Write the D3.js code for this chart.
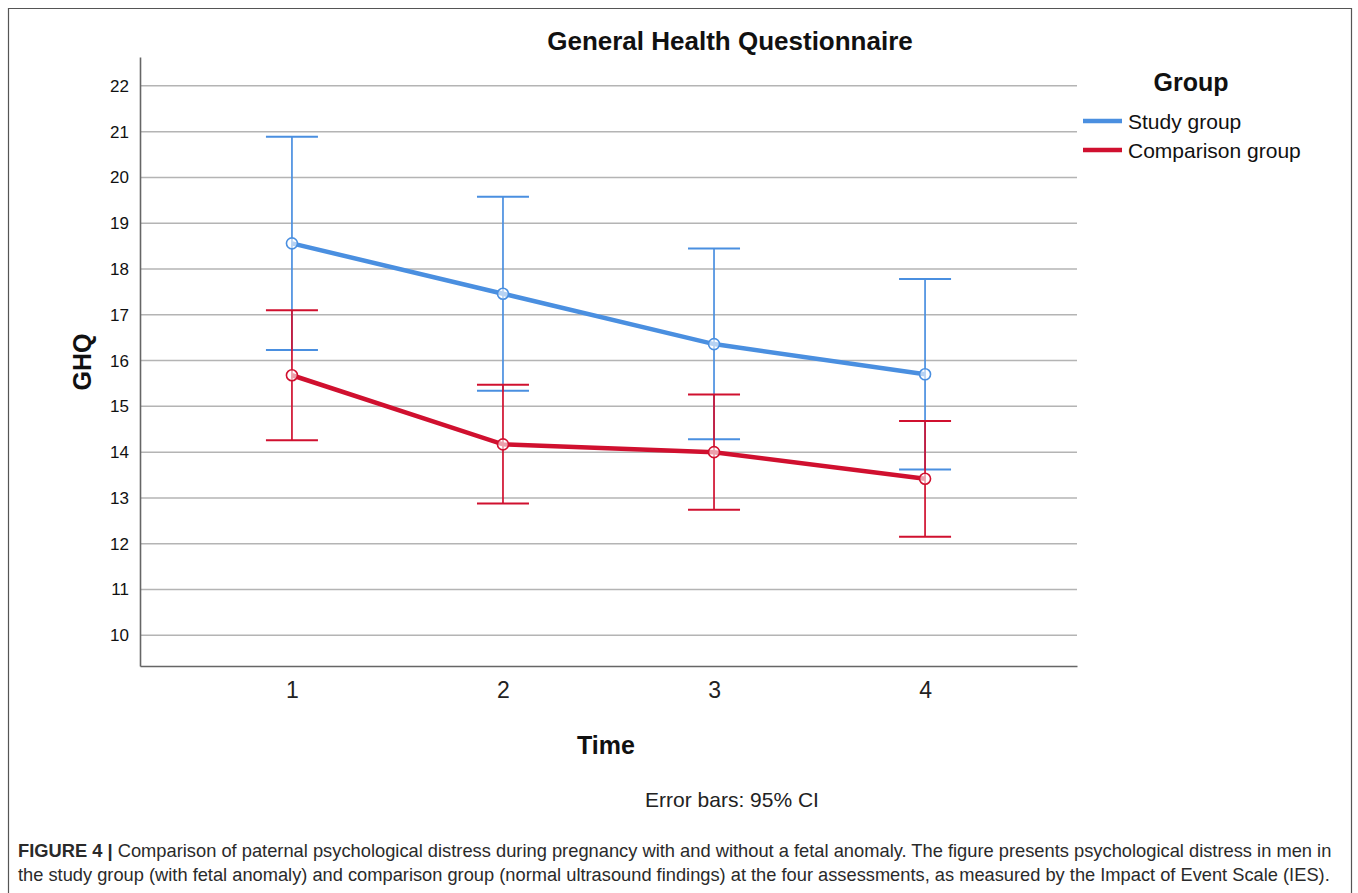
<!DOCTYPE html>
<html><head><meta charset="utf-8">
<script src="https://cdn.jsdelivr.net/npm/d3@7"></script>
<style>
html,body{margin:0;padding:0;background:#fff;}
svg{display:block;font-family:"Liberation Sans",Arial,sans-serif;}
</style></head>
<body>
<svg id="c" width="1358" height="893"></svg>
<script>
const times = [1, 2, 3, 4];
const yTicks = [10, 11, 12, 13, 14, 15, 16, 17, 18, 19, 20, 21, 22];
const seriesNames = ["Study group", "Comparison group"];
const studyMean = [18.56, 17.46, 16.36, 15.70];
const studyLow  = [16.23, 15.34, 14.28, 13.62];
const studyHigh = [20.89, 19.58, 18.45, 17.78];
const compMean = [15.68, 14.17, 14.00, 13.42];
const compLow  = [14.26, 12.88, 12.74, 12.15];
const compHigh = [17.10, 15.47, 15.26, 14.68];

const colors = ["#4a8fe0", "#d0102f"];
const svg = d3.select("#c");

// outer frame
svg.append("path").attr("d","M8.5,900 V8.5 H1351.5 V900").attr("fill","none").attr("stroke","#555").attr("stroke-width",1.2);

const x = d3.scalePoint().domain(times).range([140, 1077]).padding(0.72);
const y = d3.scaleLinear().domain([9.33, 22.63]).range([666, 57]);

// gridlines
svg.append("g").selectAll("line").data(yTicks).join("line")
  .attr("x1",140).attr("x2",1077)
  .attr("y1",d=>y(d)).attr("y2",d=>y(d))
  .attr("stroke","#b4b4b4").attr("stroke-width",1.5);

// axes
const yAxis = svg.append("g").attr("transform","translate(140,0)")
  .call(d3.axisLeft(y).tickValues(yTicks).tickSize(0).tickPadding(11));
yAxis.select(".domain").attr("stroke","#666").attr("stroke-width",1.6);
yAxis.selectAll("text").attr("font-size",17).attr("fill","#111").attr("font-family","Liberation Sans, Arial, sans-serif");

const xAxis = svg.append("g").attr("transform","translate(0,666)")
  .call(d3.axisBottom(x).tickSize(0).tickPadding(16));
xAxis.select(".domain").attr("stroke","#666").attr("stroke-width",1.6);
xAxis.selectAll("text").attr("font-size",23).attr("fill","#222").attr("font-family","Liberation Sans, Arial, sans-serif");

const series = [
  {name: seriesNames[0], mean: studyMean, low: studyLow, high: studyHigh, color: colors[0]},
  {name: seriesNames[1], mean: compMean, low: compLow, high: compHigh, color: colors[1]}
];

series.forEach(s => {
  const g = svg.append("g");
  const idx = d3.range(times.length);
  g.selectAll("line.v").data(idx).join("line").attr("class","v")
    .attr("x1",i=>x(times[i])).attr("x2",i=>x(times[i]))
    .attr("y1",i=>y(s.low[i])).attr("y2",i=>y(s.high[i]))
    .attr("stroke",s.color).attr("stroke-width",1.7);
  ["low","high"].forEach(k => {
    g.selectAll("line."+k).data(idx).join("line").attr("class",k)
      .attr("x1",i=>x(times[i])-26).attr("x2",i=>x(times[i])+26)
      .attr("y1",i=>y(s[k][i])).attr("y2",i=>y(s[k][i]))
      .attr("stroke",s.color).attr("stroke-width",2);
  });
});
series.forEach(s => {
  const g = svg.append("g");
  const idx = d3.range(times.length);
  const line = d3.line().x(i=>x(times[i])).y(i=>y(s.mean[i]));
  g.append("path").attr("d",line(idx)).attr("fill","none")
    .attr("stroke",s.color).attr("stroke-width",4.5);
  g.selectAll("circle").data(idx).join("circle")
    .attr("cx",i=>x(times[i])).attr("cy",i=>y(s.mean[i])).attr("r",5.5)
    .attr("fill","#fff").attr("fill-opacity",0.6).attr("stroke",s.color).attr("stroke-width",1.6);
});

// titles
svg.append("text").attr("x",730).attr("y",50).attr("text-anchor","middle")
  .attr("font-size",26).attr("font-weight","bold").attr("fill","#111").text("General Health Questionnaire");
svg.append("text").attr("x",606).attr("y",754).attr("text-anchor","middle")
  .attr("font-size",25).attr("font-weight","bold").attr("fill","#111").text("Time");
svg.append("text").attr("transform","translate(91,362) rotate(-90)").attr("text-anchor","middle")
  .attr("font-size",25).attr("font-weight","bold").attr("fill","#111").text("GHQ");
svg.append("text").attr("x",732).attr("y",807).attr("text-anchor","middle")
  .attr("font-size",21).attr("fill","#222").text("Error bars: 95% CI");

// legend
svg.append("text").attr("x",1191).attr("y",91).attr("text-anchor","middle")
  .attr("font-size",25).attr("font-weight","bold").attr("fill","#111").text("Group");
const lg = svg.append("g").selectAll("g").data(series).join("g")
  .attr("transform",(d,i)=>`translate(1083,${121+i*29})`);
lg.append("line").attr("x1",0).attr("x2",39).attr("stroke",d=>d.color).attr("stroke-width",4.5);
lg.append("text").attr("x",45).attr("y",7.5).attr("font-size",21).attr("fill","#111").text(d=>d.name);

// caption
const cap = svg.append("g").attr("font-family","'Liberation Sans Narrow','Liberation Sans',Arial,sans-serif").attr("fill","#2a2a2a").attr("font-size",19);
const t1 = cap.append("text").attr("x",18).attr("y",857);
t1.append("tspan").attr("font-weight","bold").text("FIGURE 4 | ");
t1.append("tspan").text("Comparison of paternal psychological distress during pregnancy with and without a fetal anomaly. The figure presents psychological distress in men in");
const t2 = cap.append("text").attr("x",18).attr("y",881)
  .text("the study group (with fetal anomaly) and comparison group (normal ultrasound findings) at the four assessments, as measured by the Impact of Event Scale (IES).");
[[t1,1333],[t2,1331]].forEach(([t,w])=>{
  const l = t.node().getComputedTextLength();
  if (l > 0) t.attr("font-size", Math.min(21, 19 * (w - 18) / l));
});
</script>
</body></html>
